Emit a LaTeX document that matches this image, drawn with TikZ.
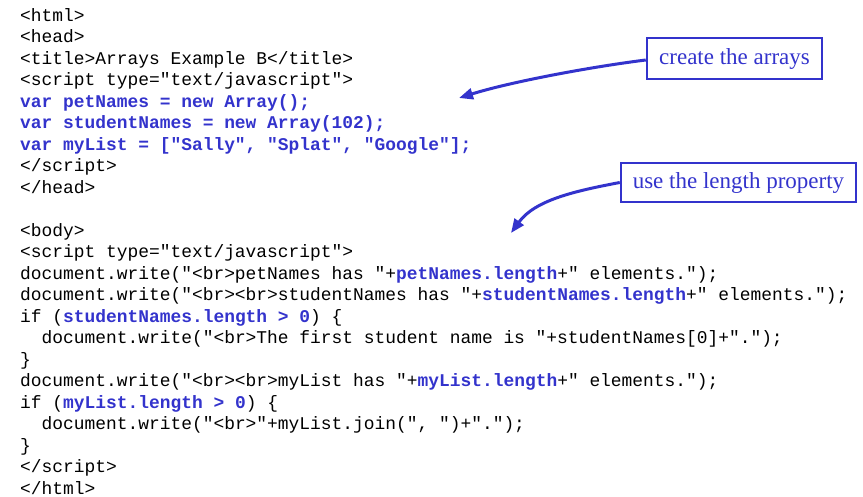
\documentclass[tikz,border=0pt]{standalone}
\usepackage{fontspec}
\usetikzlibrary{arrows.meta}
\newfontfamily\codefont{Liberation Mono}
\newfontfamily\notefont{Liberation Serif}
\definecolor{cblue}{RGB}{51,51,204}
\newcommand{\hl}[1]{\textcolor{cblue}{\bfseries #1}}
\tikzset{
  codeline/.style={anchor=base west, inner sep=0pt, font=\codefont\fontsize{17.9}{21.5}\selectfont\frenchspacing},
  notebox/.style={draw=cblue, line width=2.5pt, text=cblue, inner sep=0pt, font=\notefont\fontsize{23}{26}\selectfont},
  notearrow/.style={draw=cblue, line width=3pt, -{Triangle[length=14pt,width=11pt]}}
}
\begin{document}
\begin{tikzpicture}[x=1pt,y=-1pt]
\useasboundingbox (0,0) rectangle (863,496);
\node[codeline] (l0)  at (20,21)    {<html>};
\node[codeline] (l1)  at (20,42.5)  {<head>};
\node[codeline] (l2)  at (20,64)    {<title>Arrays Example B</title>};
\node[codeline] (l3)  at (20,85.5)  {<script type="text/javascript">};
\node[codeline] (l4)  at (20,107)   {\hl{var petNames = new Array();}};
\node[codeline] (l5)  at (20,128.5) {\hl{var studentNames = new Array(102);}};
\node[codeline] (l6)  at (20,150)   {\hl{var myList = ["Sally", "Splat", "Google"];}};
\node[codeline] (l7)  at (20,171.5) {</script>};
\node[codeline] (l8)  at (20,193)   {</head>};
\node[codeline] (l10) at (20,236)   {<body>};
\node[codeline] (l11) at (20,257.5) {<script type="text/javascript">};
\node[codeline] (l12) at (20,279)   {document.write("<br>petNames has "+\hl{petNames.length}+" elements.");};
\node[codeline] (l13) at (20,300.5) {document.write("<br><br>studentNames has "+\hl{studentNames.length}+" elements.");};
\node[codeline] (l14) at (20,322)   {if (\hl{studentNames.length > 0}) \{};
\node[codeline] (l15) at (20,343.5) {\ \ document.write("<br>The first student name is "+studentNames[0]+".");};
\node[codeline] (l16) at (20,365)   {\}};
\node[codeline] (l17) at (20,386.5) {document.write("<br><br>myList has "+\hl{myList.length}+" elements.");};
\node[codeline] (l18) at (20,408)   {if (\hl{myList.length > 0}) \{};
\node[codeline] (l19) at (20,429.5) {\ \ document.write("<br>"+myList.join(", ")+".");};
\node[codeline] (l20) at (20,451)   {\}};
\node[codeline] (l21) at (20,472.5) {</script>};
\node[codeline] (l22) at (20,494)   {</html>};

\node[notebox, minimum width=175pt, minimum height=41pt] (n1) at (734.5,58.5) {create the arrays};
\node[notebox, minimum width=235pt, minimum height=39pt] (n2) at (738.5,182.5) {use the length property};
\coordinate (t1) at (459,98);
\coordinate (t2) at (511,233);
\draw[notearrow] ([yshift=-1.5pt]n1.west) .. controls (590,67) and (510,82) .. (t1);
\draw[notearrow] (n2.west) .. controls (575,191) and (535,200) .. (t2);
\end{tikzpicture}
\end{document}
